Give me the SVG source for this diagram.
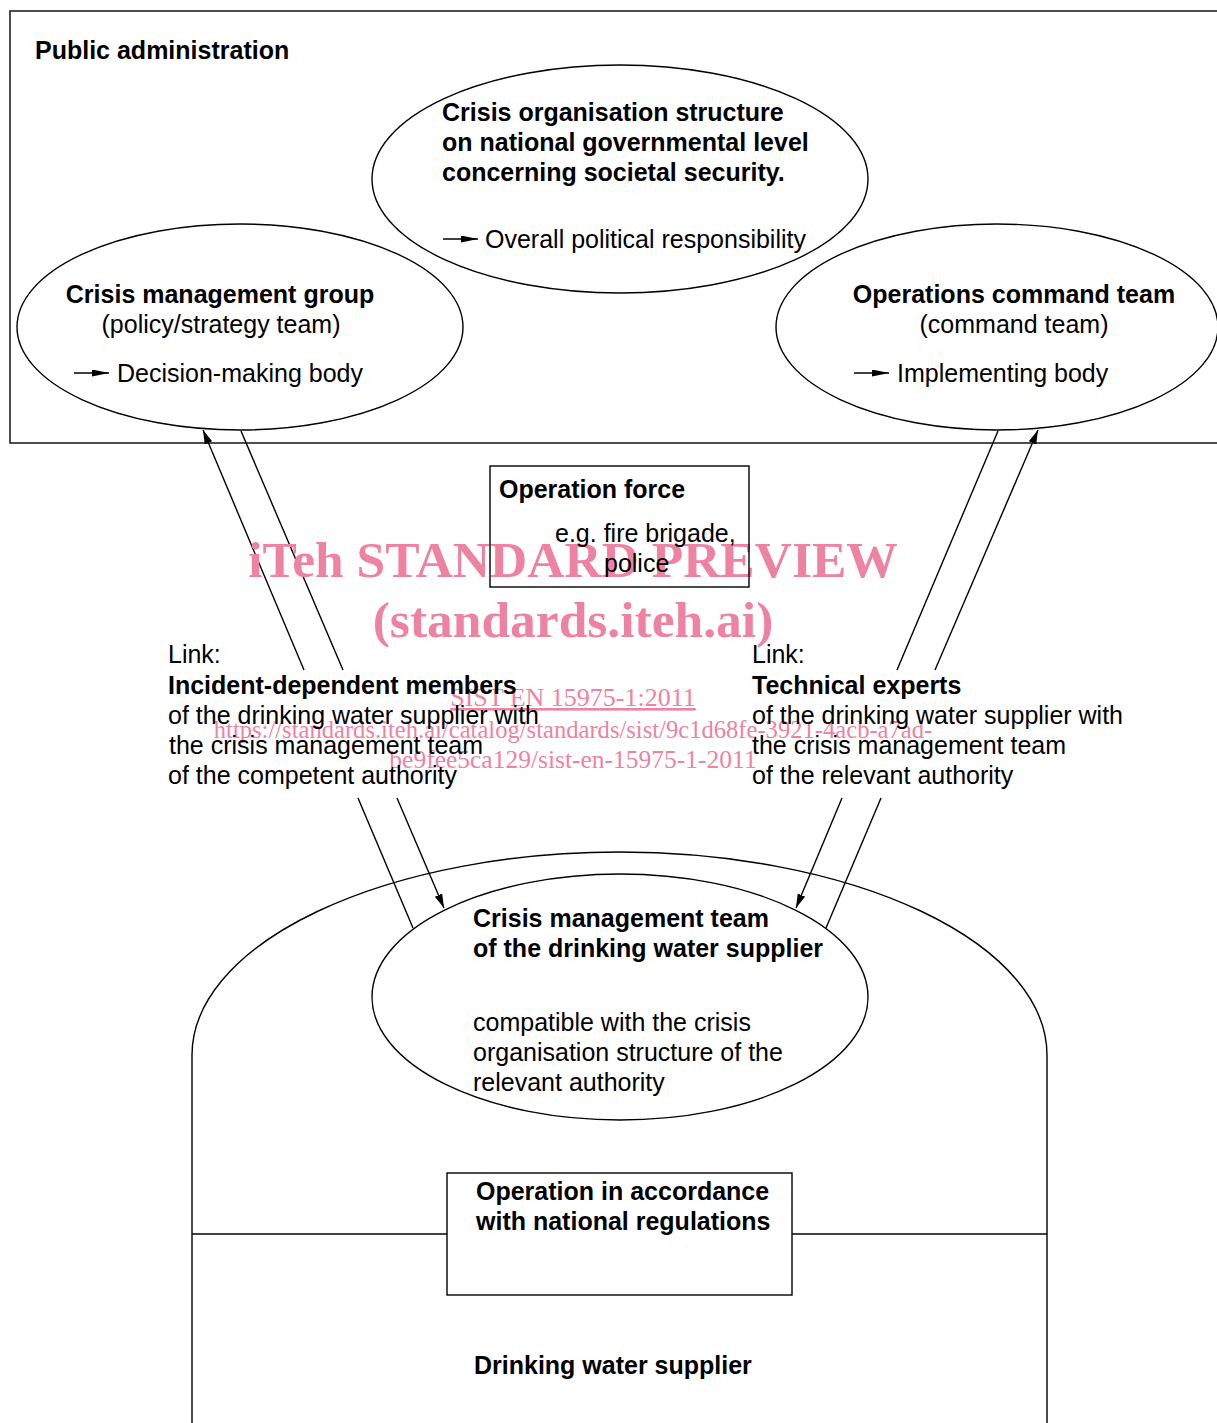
<svg xmlns="http://www.w3.org/2000/svg" width="1217" height="1423" viewBox="0 0 1217 1423">
<style>
.t{font-family:"Liberation Sans",Arial,sans-serif;font-size:25px;fill:#000}
.b{font-weight:bold}
.m{text-anchor:middle}
.s{fill:none;stroke:#000;stroke-width:1.4}
.f{fill:#fff;stroke:#000;stroke-width:1.4}
.w{font-family:"Liberation Serif","Times New Roman",serif;fill:#ee82a3;text-anchor:middle}
</style>
<defs>
<marker id="ah" markerUnits="userSpaceOnUse" markerWidth="15" markerHeight="9" refX="14" refY="4" orient="auto"><path d="M0,0 L14,4 L0,8 z" fill="#000"/></marker>
<marker id="as" markerUnits="userSpaceOnUse" markerWidth="18" markerHeight="8" refX="17" refY="3.5" orient="auto"><path d="M0,0 L17,3.5 L0,7 z" fill="#000"/></marker>
</defs>
<g id="public-administration">
<rect x="10" y="11" width="1220" height="432" fill="none" stroke="#222" stroke-width="1.6"/>
<text class="t b" x="35" y="59">Public administration</text>
</g>
<g id="drinking-water-supplier">
<path class="s" d="M192,1423 L192,1055 A427.5,203 0 0 1 1047,1055 L1047,1423"/>
<line class="s" x1="192" y1="1234" x2="447" y2="1234"/>
<line class="s" x1="792" y1="1234" x2="1047" y2="1234"/>
<text class="t b" x="474" y="1374">Drinking water supplier</text>
</g>
<g id="national-crisis">
<ellipse class="f" cx="620" cy="179" rx="248" ry="114"/>
<text class="t b" x="442" y="121">Crisis organisation structure</text>
<text class="t b" x="442" y="151">on national governmental level</text>
<text class="t b" x="442" y="181">concerning societal security.</text>
<line class="s" x1="443" y1="239" x2="478" y2="239" marker-end="url(#as)"/>
<text class="t" x="485" y="248">Overall political responsibility</text>
</g>
<g id="crisis-management-group">
<ellipse class="f" cx="240" cy="327" rx="223" ry="103"/>
<text class="t b m" x="220" y="303">Crisis management group</text>
<text class="t m" x="221" y="333">(policy/strategy team)</text>
<line class="s" x1="74" y1="373" x2="109" y2="373" marker-end="url(#as)"/>
<text class="t" x="117" y="382">Decision-making body</text>
</g>
<g id="operations-command-team">
<ellipse class="f" cx="997" cy="327" rx="221" ry="103"/>
<text class="t b m" x="1014" y="303">Operations command team</text>
<text class="t m" x="1014" y="333">(command team)</text>
<line class="s" x1="854" y1="373" x2="889" y2="373" marker-end="url(#as)"/>
<text class="t" x="897" y="382">Implementing body</text>
</g>
<g id="crisis-management-team">
<ellipse class="f" cx="620" cy="997" rx="248" ry="123"/>
<text class="t b" x="473" y="927">Crisis management team</text>
<text class="t b" x="473" y="957">of the drinking water supplier</text>
<text class="t" x="473" y="1031">compatible with the crisis</text>
<text class="t" x="473" y="1061">organisation structure of the</text>
<text class="t" x="473" y="1091">relevant authority</text>
</g>
<g id="national-regulations">
<rect class="f" x="447" y="1173" width="345" height="122"/>
<text class="t b" x="476" y="1200">Operation in accordance</text>
<text class="t b" x="476" y="1230">with national regulations</text>
</g>
<g id="connectors">
<line class="s" x1="304" y1="670" x2="203" y2="430" marker-end="url(#ah)"/>
<line class="s" x1="241" y1="431" x2="343" y2="670"/>
<line class="s" x1="358" y1="798" x2="413" y2="928"/>
<line class="s" x1="397" y1="798" x2="444" y2="908" marker-end="url(#ah)"/>
<line class="s" x1="998" y1="431" x2="897" y2="670"/>
<line class="s" x1="935" y1="670" x2="1038" y2="430" marker-end="url(#ah)"/>
<line class="s" x1="842" y1="798" x2="796" y2="908" marker-end="url(#ah)"/>
<line class="s" x1="881" y1="798" x2="826" y2="928"/>
</g>
<g id="watermark">
<text class="w" x="573" y="577" font-size="51.5" font-weight="bold">iTeh STANDARD PREVIEW</text>
<text class="w" x="573" y="637" font-size="51.5" font-weight="bold">(standards.iteh.ai)</text>
<text class="w" x="573" y="706" font-size="26" text-decoration="underline">SIST EN 15975-1:2011</text>
<text class="w" x="573" y="738" font-size="24.6">https://standards.iteh.ai/catalog/standards/sist/9c1d68fe-3921-4acb-a7ad-</text>
<text class="w" x="573" y="768" font-size="25.5">be9fee5ca129/sist-en-15975-1-2011</text>
</g>
<g id="operation-force">
<rect x="490" y="466" width="259" height="121" fill="none" stroke="#000" stroke-width="1.4"/>
<text class="t b" x="499" y="498">Operation force</text>
<text class="t" x="555" y="542">e.g. fire brigade,</text>
<text class="t" x="604" y="572">police</text>
</g>
<g id="link-left">
<text class="t" x="168" y="663">Link:</text>
<text class="t b" x="168" y="694">Incident-dependent members</text>
<text class="t" x="168" y="724">of the drinking water supplier with</text>
<text class="t" x="169" y="754">the crisis management team</text>
<text class="t" x="168" y="784">of the competent authority</text>
</g>
<g id="link-right">
<text class="t" x="752" y="663">Link:</text>
<text class="t b" x="752" y="694">Technical experts</text>
<text class="t" x="752" y="724">of the drinking water supplier with</text>
<text class="t" x="752" y="754">the crisis management team</text>
<text class="t" x="752" y="784">of the relevant authority</text>
</g>
</svg>
